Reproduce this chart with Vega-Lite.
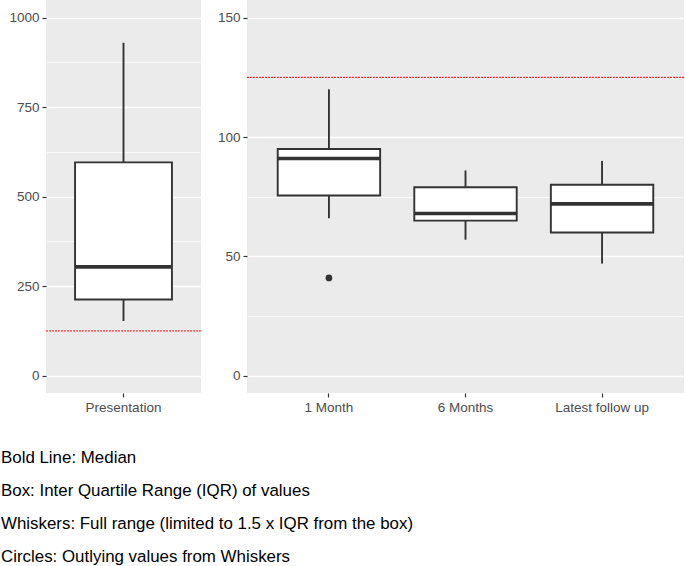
{
  "$schema": "https://vega.github.io/schema/vega-lite/v6.json",
  "padding": {"left": 0, "top": 0, "right": 1, "bottom": 0},
  "background": "white",
  "spacing": 15,
  "config": {
    "font": "Liberation Sans",
    "view": {"fill": "#EBEBEB", "stroke": null},
    "axis": {"domain": false, "labelColor": "#4D4D4D", "labelFontSize": 13.5, "tickColor": "#333333", "tickSize": 4, "tickWidth": 1.2, "gridColor": "#FFFFFF", "labelPadding": 3, "title": null}
  },
  "title": {
    "text": ["Bold Line: Median", "Box: Inter Quartile Range (IQR) of values", "Whiskers: Full range (limited to 1.5 x IQR from the box)", "Circles: Outlying values from Whiskers"],
    "orient": "bottom", "anchor": "start", "fontSize": 16.9, "fontWeight": "normal", "color": "#000000", "lineHeight": 33.1, "offset": 36, "dx": -8, "font": "Liberation Sans"
  },
  "datasets": {
    "presentation": [{"group": "Presentation", "lower": 153, "q1": 213, "median": 304, "q3": 596, "upper": 930}],
    "followup": [
      {"group": "1 Month", "lower": 66, "q1": 75.5, "median": 91, "q3": 95, "upper": 120},
      {"group": "6 Months", "lower": 57, "q1": 65, "median": 68, "q3": 79, "upper": 86},
      {"group": "Latest follow up", "lower": 47, "q1": 60, "median": 72, "q3": 80, "upper": 90}
    ],
    "outliers": [{"group": "1 Month", "value": 41}],
    "threshold": [{"value": 125}]
  },
  "hconcat": [
    {
      "width": 155,
      "height": 393,
      "layer": [
        {
          "data": {"name": "presentation"},
          "mark": {"type": "rule", "color": "#333333", "strokeWidth": 1.9},
          "encoding": {
            "x": {"field": "group", "type": "nominal", "scale": {"domain": ["Presentation"], "paddingInner": 0, "paddingOuter": 0.1}, "axis": {"labelAngle": 0, "gridWidth": 1.4}},
            "y": {"field": "lower", "type": "quantitative", "scale": {"domain": [-48.3, 1049.4], "nice": false, "zero": false},
              "axis": {"values": [0, 125, 250, 375, 500, 625, 750, 875, 1000], "format": "d",
                "labelExpr": "datum.value % 250 === 0 ? datum.label : ''",
                "gridWidth": {"condition": {"test": "datum.value % 250 === 0", "value": 1.4}, "value": 0.7},
                "tickOpacity": {"condition": {"test": "datum.value % 250 === 0", "value": 1}, "value": 0}}},
            "y2": {"field": "upper"}
          }
        },
        {
          "data": {"name": "threshold"},
          "mark": {"type": "rule", "color": "#FF0000", "strokeDash": [2, 1], "strokeWidth": 1},
          "encoding": {"y": {"field": "value", "type": "quantitative"}}
        },
        {
          "data": {"name": "presentation"},
          "mark": {"type": "bar", "fill": "#FFFFFF", "stroke": "#333333", "strokeWidth": 1.9, "width": {"band": 0.75}},
          "encoding": {"x": {"field": "group", "type": "nominal"}, "y": {"field": "q1", "type": "quantitative"}, "y2": {"field": "q3"}}
        },
        {
          "data": {"name": "presentation"},
          "mark": {"type": "tick", "color": "#333333", "size": 97, "thickness": 3.6, "opacity": 1},
          "encoding": {"x": {"field": "group", "type": "nominal"}, "y": {"field": "median", "type": "quantitative"}}
        }
      ]
    },
    {
      "width": 437,
      "height": 393,
      "layer": [
        {
          "data": {"name": "followup"},
          "mark": {"type": "rule", "color": "#333333", "strokeWidth": 1.9},
          "encoding": {
            "x": {"field": "group", "type": "nominal", "scale": {"domain": ["1 Month", "6 Months", "Latest follow up"], "paddingInner": 0, "paddingOuter": 0.1}, "axis": {"labelAngle": 0, "gridWidth": 1.4}},
            "y": {"field": "lower", "type": "quantitative", "scale": {"domain": [-7.2, 157.4], "nice": false, "zero": false},
              "axis": {"values": [0, 25, 50, 75, 100, 125, 150], "format": "d",
                "labelExpr": "datum.value % 50 === 0 ? datum.label : ''",
                "gridWidth": {"condition": {"test": "datum.value % 50 === 0", "value": 1.4}, "value": 0.7},
                "tickOpacity": {"condition": {"test": "datum.value % 50 === 0", "value": 1}, "value": 0}}},
            "y2": {"field": "upper"}
          }
        },
        {
          "data": {"name": "threshold"},
          "mark": {"type": "rule", "color": "#FF0000", "strokeDash": [2, 1], "strokeWidth": 1},
          "encoding": {"y": {"field": "value", "type": "quantitative"}}
        },
        {
          "data": {"name": "followup"},
          "mark": {"type": "bar", "fill": "#FFFFFF", "stroke": "#333333", "strokeWidth": 1.9, "width": {"band": 0.75}},
          "encoding": {"x": {"field": "group", "type": "nominal"}, "y": {"field": "q1", "type": "quantitative"}, "y2": {"field": "q3"}}
        },
        {
          "data": {"name": "followup"},
          "mark": {"type": "tick", "color": "#333333", "size": 103, "thickness": 3.6, "opacity": 1},
          "encoding": {"x": {"field": "group", "type": "nominal"}, "y": {"field": "median", "type": "quantitative"}}
        },
        {
          "data": {"name": "outliers"},
          "mark": {"type": "point", "filled": true, "color": "#333333", "size": 45, "opacity": 1},
          "encoding": {"x": {"field": "group", "type": "nominal"}, "y": {"field": "value", "type": "quantitative"}}
        }
      ]
    }
  ]
}
